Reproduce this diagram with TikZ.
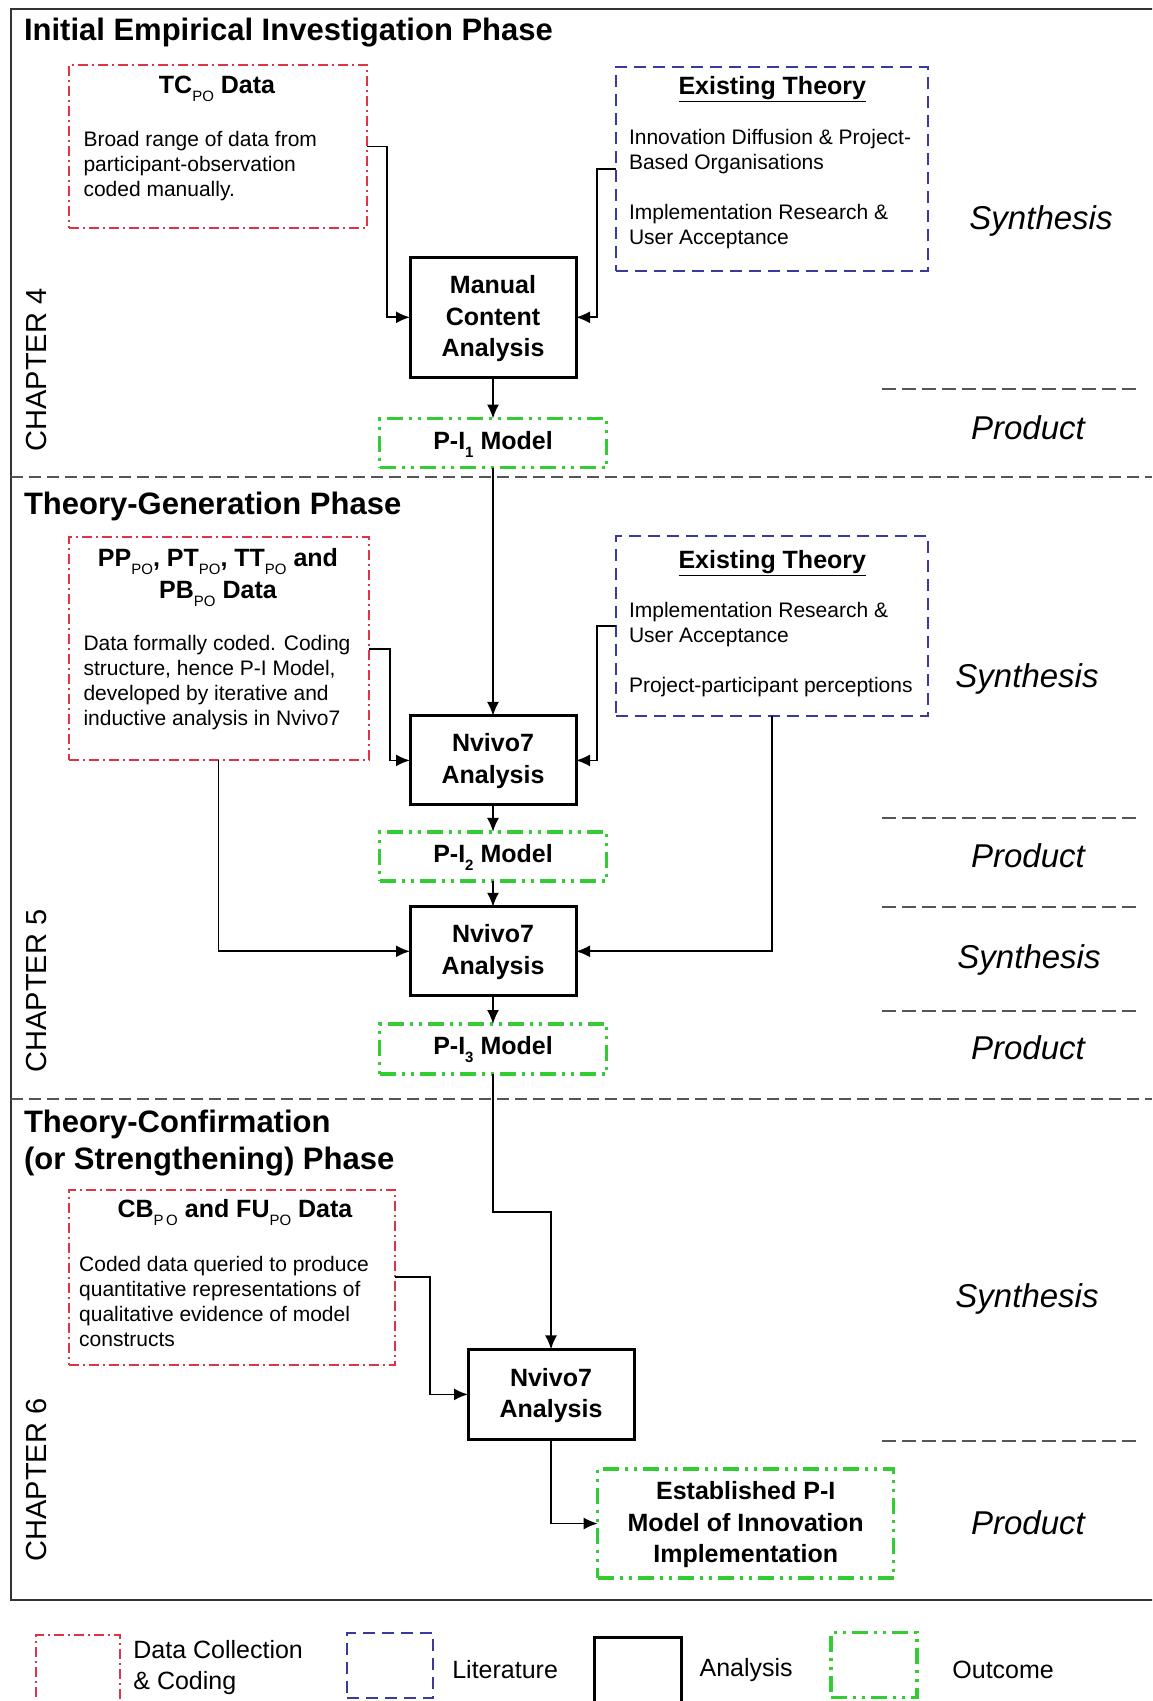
\documentclass[tikz,border=0pt]{standalone}
\usepackage{fontspec}
\setmainfont{Liberation Sans}
\usetikzlibrary{arrows.meta}

\definecolor{datared}{HTML}{DC3548}
\definecolor{litblue}{HTML}{3A3A9E}
\definecolor{outgreen}{HTML}{33CC33}
\definecolor{rulegray}{HTML}{555555}

\newcommand\fs[2]{\fontsize{#1}{#2}\selectfont}
\newcommand\sub[1]{\raisebox{-0.32em}{\fs{15}{15}#1}}

\tikzset{
  every node/.style={inner sep=0pt, outer sep=0pt},
  datbox/.style={draw=datared, line width=2pt, dash pattern=on 10pt off 4pt on 2pt off 4pt},
  litbox/.style={draw=litblue, line width=2pt, dash pattern=on 12pt off 7pt},
  anbox/.style={draw=black, line width=3pt},
  outbox/.style={draw=outgreen, line width=3.5pt, dash pattern=on 16pt off 6pt on 3pt off 6pt on 3pt off 6pt},
  boxtitle/.style={font=\fs{25}{31.5}\bfseries, align=center},
  body/.style={font=\fs{21}{25}, align=left, anchor=west},
  phase/.style={font=\fs{31}{37}\bfseries, align=left, anchor=west},
  side/.style={font=\fs{33}{40}\itshape},
  chapter/.style={font=\fs{29}{35}, rotate=90},
  divider/.style={draw=rulegray, line width=2pt, dash pattern=on 12pt off 6pt},
  sep/.style={draw=rulegray, line width=2pt, dash pattern=on 14pt off 6pt},
  arr/.style={draw=black, line width=1.8pt, -{Latex[length=14pt,width=12pt]}},
  legend/.style={font=\fs{25}{31}, align=left, anchor=west},
}

\begin{document}
\begin{tikzpicture}[x=1pt, y=-1pt]
\useasboundingbox (0,0) rectangle (1152,1701);
\clip (0,0) rectangle (1152,1701);

% outer frame and phase dividers
\draw[line width=2pt, draw=black!80] (11,9) rectangle (1170,1600);
\draw[divider] (11,477.3) -- (1152,477.3);
\draw[divider] (11,1098.8) -- (1152,1098.8);

% phase titles
\node[phase] (t1) at (24,33) {Initial Empirical Investigation Phase};
\node[phase] (t2) at (24,506) {Theory-Generation Phase};
\node[phase] (t3) at (24,1143) {Theory-Confirmation\\(or Strengthening) Phase};

% chapter labels
\node[chapter] (c4) at (37,370) {CHAPTER 4};
\node[chapter] (c5) at (37,991) {CHAPTER 5};
\node[chapter] (c6) at (37,1480) {CHAPTER 6};

% ---------- Chapter 4 ----------
\node[datbox, minimum width=298pt, minimum height=163pt] (red1) at (217.5,146.5) {};
\node[boxtitle] (red1t) at (217,89) {TC\sub{\mdseries PO} Data};
\node[body] (red1b) at (83.5,166) {Broad range of data from\\participant-observation\\coded manually.};

\node[litbox, minimum width=312pt, minimum height=204pt] (blue1) at (772.3,169.3) {};
\node[boxtitle] (blue1t) at (772.3,89) {\underline{Existing Theory}};
\node[body] (blue1b) at (629,188.8) {Innovation Diffusion \& Project-\\Based Organisations\\[25pt]Implementation Research \&\\User Acceptance};

\node[anbox, minimum width=166pt, minimum height=120pt] (manual) at (493,317.3) {};
\node[boxtitle] (manualt) at (493,319) {Manual\\Content\\Analysis};

\node[outbox, minimum width=227pt, minimum height=49pt] (g1) at (493,443.1) {};
\node[boxtitle] (g1t) at (493,444) {P-I\sub{1} Model};

\draw[arr] (red1.east) -- ++(20.6,0) |- (manual.west);
\draw[arr] (blue1.west) -- ++(-19.5,0) |- (manual.east);
\draw[arr] (manual.south) -- (g1.north);

% ---------- Chapter 5 ----------
\node[datbox, minimum width=300pt, minimum height=223pt] (red2) at (218.5,648.7) {};
\node[boxtitle] (red2t) at (218,577.6) {PP\sub{\mdseries PO}, PT\sub{\mdseries PO}, TT\sub{\mdseries PO} and\\PB\sub{\mdseries PO} Data};
\node[body] (red2b) at (83.5,682.8) {Data formally coded. Coding\\structure, hence P-I Model,\\developed by iterative and\\inductive analysis in Nvivo7};

\node[litbox, minimum width=312pt, minimum height=180pt] (blue2) at (772.3,625.9) {};
\node[boxtitle] (blue2t) at (772.3,563) {\underline{Existing Theory}};
\node[body] (blue2b) at (629,649.7) {Implementation Research \&\\User Acceptance\\[25pt]Project-participant perceptions};

\node[anbox, minimum width=166pt, minimum height=89pt] (nv1) at (493,760.4) {};
\node[boxtitle] (nv1t) at (493,761) {Nvivo7\\Analysis};

\node[outbox, minimum width=227pt, minimum height=49pt] (g2) at (493,856.4) {};
\node[boxtitle] (g2t) at (493,857) {P-I\sub{2} Model};

\node[anbox, minimum width=166pt, minimum height=89pt] (nv2) at (493,951.3) {};
\node[boxtitle] (nv2t) at (493,952) {Nvivo7\\Analysis};

\node[outbox, minimum width=227pt, minimum height=50pt] (g3) at (493,1049) {};
\node[boxtitle] (g3t) at (493,1050) {P-I\sub{3} Model};

\draw[arr] (g1.south) -- (nv1.north);
\draw[arr] (red2.east) -- ++(21.7,0) |- (nv1.west);
\draw[arr] (blue2.west) -- ++(-19.5,0) |- (nv1.east);
\draw[arr] (nv1.south) -- (g2.north);
\draw[arr] (g2.south) -- (nv2.north);
\draw[arr] (red2.south) |- (nv2.west);
\draw[arr] (blue2.south) |- (nv2.east);
\draw[arr] (nv2.south) -- (g3.north);

% ---------- Chapter 6 ----------
\node[datbox, minimum width=326pt, minimum height=175pt] (red3) at (231.5,1277.3) {};
\node[boxtitle] (red3t) at (235,1212.7) {CB\sub{\mdseries P\,O} and FU\sub{\mdseries PO} Data};
\node[body] (red3b) at (79.2,1301.6) {Coded data queried to produce\\quantitative representations of\\qualitative evidence of model\\constructs};

\node[anbox, minimum width=166pt, minimum height=90pt] (nv3) at (551,1394.4) {};
\node[boxtitle] (nv3t) at (551,1395.5) {Nvivo7\\Analysis};

\node[outbox, minimum width=296pt, minimum height=109pt] (g4) at (745.7,1523.5) {};
\node[boxtitle] (g4t) at (745.7,1525) {Established P-I\\Model of Innovation\\Implementation};

\draw[arr] (g3.south) -- ++(0,137.7) -| (nv3.north);
\draw[arr] (red3.east) -- ++(35.8,0) |- (nv3.west);
\draw[arr] (nv3.south) |- (g4.west);

% ---------- Synthesis / Product column ----------
\node[side] (s1) at (1041,221) {Synthesis};
\draw[sep] (882,389.4) -- (1136.8,389.4);
\node[side] (p1) at (1028,428) {Product};
\node[side] (s2) at (1027,679) {Synthesis};
\draw[sep] (882,817.9) -- (1136.8,817.9);
\node[side] (p2) at (1028,856) {Product};
\draw[sep] (882,906.8) -- (1136.8,906.8);
\node[side] (s3) at (1029,960) {Synthesis};
\draw[sep] (882,1011) -- (1136.8,1011);
\node[side] (p3) at (1028,1048) {Product};
\node[side] (s4) at (1027,1299) {Synthesis};
\draw[sep] (882,1440.5) -- (1136.8,1440.5);
\node[side] (p4) at (1028,1523) {Product};

% ---------- legend ----------
\node[datbox, minimum width=84pt, minimum height=80pt, anchor=north west] (lg1) at (36,1635) {};
\node[legend] (lg1t) at (133.4,1667.5) {Data Collection\\\& Coding};
\node[litbox, minimum width=86pt, minimum height=65pt, anchor=north west] (lg2) at (347,1632.5) {};
\node[legend] (lg2t) at (452.3,1670) {Literature};
\node[anbox, minimum width=87pt, minimum height=80pt, anchor=north west] (lg3) at (594.4,1637) {};
\node[legend] (lg3t) at (699.6,1670) {Analysis};
\node[outbox, minimum width=86pt, minimum height=65pt, anchor=north west] (lg4) at (831,1632.5) {};
\node[legend] (lg4t) at (952.4,1670) {Outcome};
\end{tikzpicture}
\end{document}
